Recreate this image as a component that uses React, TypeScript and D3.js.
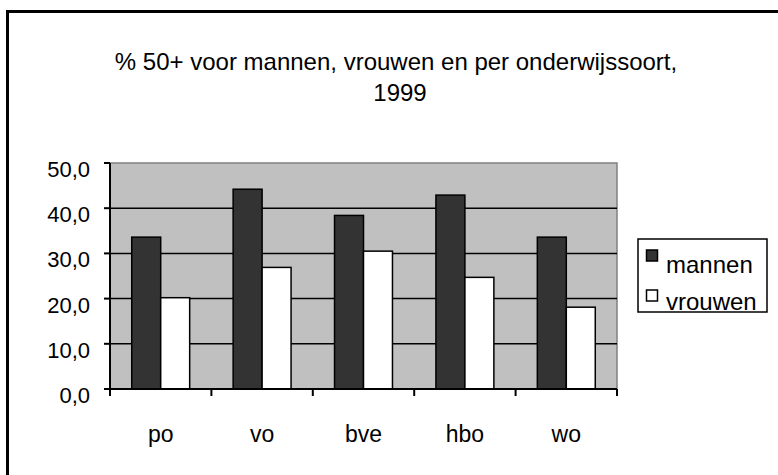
import React from "react";
import * as d3 from "d3";

const categories = ["po", "vo", "bve", "hbo", "wo"];
const seriesNames = ["mannen", "vrouwen"];
const mannen = [33.6, 44.2, 38.4, 42.9, 33.6];
const vrouwen = [20.2, 26.9, 30.5, 24.7, 18.1];
const yTicks = [0, 10, 20, 30, 40, 50];
const titleLines = ["% 50+ voor mannen, vrouwen en per onderwijssoort,", "1999"];

const seriesFill: Record<string, string> = { mannen: "#333333", vrouwen: "#ffffff" };
const FONT = "'Liberation Sans', Arial, sans-serif";

export default function App() {
  const W = 778, H = 475;
  const left = 110, right = 617, top = 163, bottom = 389;
  const x0 = d3.scaleBand<string>().domain(categories).range([left, right]).padding(0);
  const x1 = d3.scaleBand<string>().domain(seriesNames).range([0, x0.bandwidth()]).paddingInner(0).paddingOuter(0.75);
  const y = d3.scaleLinear().domain([0, 50]).range([bottom, top]);
  const data = categories.map((c, i) => ({ c, mannen: mannen[i], vrouwen: vrouwen[i] }));
  const fmt = (v: number) => v.toFixed(1).replace(".", ",");
  const boundaries = categories.map((c) => x0(c)!).concat([right]);

  return (
    <svg width={W} height={H} style={{ position: "absolute", left: 0, top: 0, background: "#fff" }} fontFamily={FONT}>
      <rect x={0} y={0} width={W} height={H} fill="#fff" />
      {/* outer chart border */}
      <rect x={7.5} y={11.5} width={900} height={600} fill="none" stroke="#000" strokeWidth={3} />
      {/* title */}
      <text x={396} y={70} textAnchor="middle" fontSize={24} fill="#000">{titleLines[0]}</text>
      <text x={400} y={101} textAnchor="middle" fontSize={24} fill="#000">{titleLines[1]}</text>
      {/* plot area */}
      <rect x={left} y={top} width={right - left} height={bottom - top} fill="#c0c0c0" stroke="#808080" strokeWidth={1.5} />
      {/* gridlines */}
      {yTicks.filter((t) => t > 0 && t < 50).map((t) => (
        <line key={t} x1={left} x2={right} y1={y(t)} y2={y(t)} stroke="#000" strokeWidth={1.5} />
      ))}
      {/* bars */}
      {data.map((d) => (
        <g key={d.c} transform={`translate(${x0(d.c)},0)`}>
          {seriesNames.map((s) => {
            const v = (d as any)[s] as number;
            return (
              <rect key={s} x={x1(s)!} y={y(v)} width={x1.bandwidth()} height={y(0) - y(v)}
                fill={seriesFill[s]} stroke="#000" strokeWidth={1.5} />
            );
          })}
        </g>
      ))}
      {/* axes */}
      <line x1={left} x2={left} y1={top} y2={bottom} stroke="#000" strokeWidth={2} />
      <line x1={left} x2={right} y1={bottom} y2={bottom} stroke="#000" strokeWidth={2} />
      {yTicks.map((t) => (
        <g key={t}>
          <line x1={left - 6} x2={left} y1={y(t)} y2={y(t)} stroke="#000" strokeWidth={2} />
          <text x={90} y={y(t) + 14} textAnchor="end" fontSize={22} fill="#000">{fmt(t)}</text>
        </g>
      ))}
      {boundaries.map((bx, i) => (
        <line key={i} x1={bx} x2={bx} y1={bottom} y2={bottom + 7} stroke="#000" strokeWidth={2} />
      ))}
      {categories.map((c) => (
        <text key={c} x={x0(c)! + x0.bandwidth() / 2} y={442} textAnchor="middle" fontSize={23} fill="#000">{c}</text>
      ))}
      {/* legend */}
      <rect x={638} y={239} width={129} height={73} fill="#fff" stroke="#000" strokeWidth={1.5} />
      {seriesNames.map((s, i) => (
        <g key={s}>
          <rect x={646.5} y={250 + i * 40} width={11} height={11} fill={seriesFill[s]} stroke="#000" strokeWidth={1.5} />
          <text x={666} y={273 + i * 37} fontSize={24} fill="#000">{s}</text>
        </g>
      ))}
    </svg>
  );
}
